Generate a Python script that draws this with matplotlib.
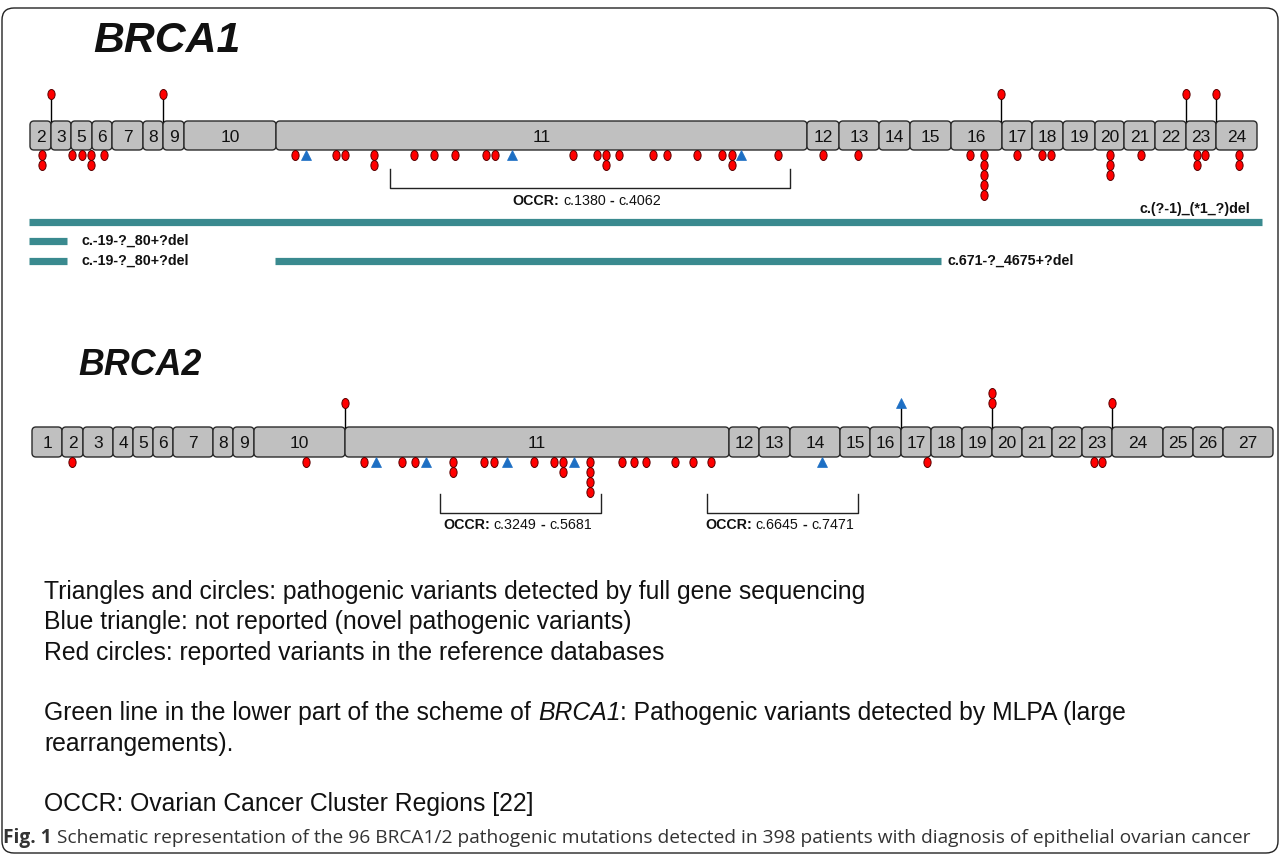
import matplotlib
matplotlib.use("Agg")
import matplotlib.pyplot as plt
from matplotlib.patches import FancyBboxPatch
from matplotlib.path import Path
from matplotlib.transforms import Affine2D
from matplotlib.markers import MarkerStyle

# ---------------- data (schematic positions along the gene) ----------------
brca1_exon_labels = ['2', '3', '5', '6', '7', '8', '9', '10', '11', '12', '13', '14',
                     '15', '16', '17', '18', '19', '20', '21', '22', '23', '24']
brca1_exon_bounds = [30, 51, 71, 92, 112, 143, 163, 184, 276, 807, 839, 879, 910,
                     951, 1002, 1032, 1063, 1095, 1124, 1155, 1186, 1216, 1257]
brca1_circles_below_pos = [42, 72, 82, 91, 104, 295, 336, 345, 374, 414, 434, 455,
                           486, 495, 573, 597, 606, 619, 653, 667, 697, 722, 732, 778,
                           823, 858, 970, 984, 1017, 1042, 1051, 1110, 1141, 1197,
                           1205, 1239]
brca1_circles_below_count = [2, 1, 1, 2, 1, 1, 1, 1, 2, 1, 1, 1,
                             1, 1, 1, 1, 2, 1, 1, 1, 1, 1, 2, 1,
                             1, 1, 1, 5, 1, 1, 1, 3, 1, 2,
                             1, 2]
brca1_triangles_below_pos = [306, 512, 741]
brca1_circles_above_pos = [51, 163, 1001, 1186, 1216]
brca1_circles_above_count = [1, 1, 1, 1, 1]
brca1_occr_start = [390]
brca1_occr_end = [790]
brca1_occr_from = ['c.1380']
brca1_occr_to = ['c.4062']

brca2_exon_labels = [str(i) for i in range(1, 28)]
brca2_exon_bounds = [32, 62, 83, 113, 133, 153, 173, 213, 233, 254, 345, 729, 759,
                     790, 840, 870, 901, 931, 962, 992, 1022, 1052, 1082, 1112, 1163,
                     1193, 1223, 1273]
brca2_circles_below_pos = [72, 306, 364, 402, 415, 453, 484, 494, 534, 554, 563, 590,
                           622, 634, 646, 675, 693, 711, 927, 1094, 1102]
brca2_circles_below_count = [1, 1, 1, 1, 1, 2, 1, 1, 1, 1, 2, 4,
                             1, 1, 1, 1, 1, 1, 1, 1, 1]
brca2_triangles_below_pos = [376, 426, 507, 574, 822]
brca2_circles_above_pos = [345, 992, 1112]
brca2_circles_above_count = [1, 2, 1]
brca2_triangles_above_pos = [901]
brca2_occr_start = [440, 707]
brca2_occr_end = [601, 858]
brca2_occr_from = ['c.3249', 'c.6645']
brca2_occr_to = ['c.5681', 'c.7471']

mlpa_start = [29, 29, 29, 275]
mlpa_end = [1262, 67, 67, 941]
mlpa_row = [0, 1, 2, 2]
mlpa_labels = ['c.(?-1)_(*1_?)del', 'c.-19-?_80+?del', 'c.-19-?_80+?del',
               'c.671-?_4675+?del']

legend_lines = [
    [("Triangles and circles: pathogenic variants detected by full gene sequencing", {})],
    [("Blue triangle: not reported (novel pathogenic variants)", {})],
    [("Red circles: reported variants in the reference databases", {})],
    None,
    [("Green line in the lower part of the scheme of ", {}), ("BRCA1", {'fontstyle': 'italic'}),
     (": Pathogenic variants detected by MLPA (large", {})],
    [("rearrangements).", {})],
    None,
    [("OCCR: Ovarian Cancer Cluster Regions [22]", {})],
]
caption_bold = "Fig. 1"
caption_text = (" Schematic representation of the 96 BRCA1/2 pathogenic mutations detected "
                "in 398 patients with diagnosis of epithelial ovarian cancer")

# ---------------- styling / layout ----------------
W, H = 1281, 858
fig = plt.figure(figsize=(W / 100, H / 100), dpi=100)
ax = fig.add_axes([0, 0, 1, 1])
ax.set_xlim(0, W)
ax.set_ylim(H, 0)
ax.axis('off')
renderer = fig.canvas.get_renderer()

FONT = 'Liberation Sans'
BOX_FILL = '#c0c0c0'
BOX_EDGE = '#2b2b2b'
RED = '#ff0000'
RED_EDGE = '#5a0000'
BLUE = '#1d6fc4'
TEAL = '#3a8a8f'
STEP = 10

ellipse = MarkerStyle(Path.unit_circle().transformed(Affine2D().scale(0.72, 1.0)))


def text_width(s, **kw):
    t = ax.text(0, 0, s, **kw)
    w = t.get_window_extent(renderer).width
    t.remove()
    return w


def rich(x, y, segs, ha='left', **kw):
    items = []
    cur = 0.0
    for s, over in segs:
        props = dict(kw)
        props.update(over)
        lead = len(s) - len(s.lstrip(' '))
        trail = len(s) - len(s.rstrip(' '))
        core = s.strip(' ')
        sp = text_width('a a', **props) - text_width('aa', **props)
        cur += lead * sp
        t = ax.text(x + cur, y, core, ha='left', va='baseline', **props)
        items.append((t, cur))
        cur += t.get_window_extent(renderer).width + trail * sp
    shift = {'left': 0, 'center': -cur / 2, 'right': -cur}[ha]
    for t, off in items:
        t.set_x(x + off + shift)
    return cur


def fit(segs, target, base=10, **kw):
    before = list(ax.texts)
    w = rich(0, -100, segs, fontsize=base, **kw)
    for t in list(ax.texts):
        if t not in before:
            t.remove()
    return base * target / w


def draw_gene(labels, bounds, top, h, title, title_x, title_base, title_size,
              below_pos, below_cnt, tri_below, above_pos, above_cnt, tri_above,
              above_off, occr_s, occr_e, occr_f, occr_t, occr_y0, occr_y1, occr_base,
              occr_size):
    for i, lab in enumerate(labels):
        x0, x1 = bounds[i], bounds[i + 1]
        ax.add_patch(FancyBboxPatch((x0, top), x1 - x0, h,
                                    boxstyle='round,pad=0,rounding_size=4',
                                    fc=BOX_FILL, ec=BOX_EDGE, lw=1.0, zorder=2))
        ax.text((x0 + x1) / 2, top + h / 2 + 6.5, lab, ha='center', va='baseline',
                fontsize=12.5, family=FONT, color='#111111', zorder=3)
    bottom = top + h
    y0 = bottom + 5
    for p, n in zip(below_pos, below_cnt):
        ys = [y0 + k * STEP for k in range(n)]
        ax.plot([p] * n, ys, ls='none', marker=ellipse, ms=7.2, mfc=RED, mec=RED_EDGE,
                mew=0.7, zorder=4)
    ax.plot(tri_below, [y0] * len(tri_below), ls='none', marker='^', ms=7, mfc=BLUE,
            mec=BLUE, mew=0.5, zorder=4)
    ya = top - above_off
    for p, n in zip(above_pos, above_cnt):
        ys = [ya - k * STEP for k in range(n)]
        ax.plot([p, p], [top, ya], color='black', lw=1.0, zorder=3)
        ax.plot([p] * n, ys, ls='none', marker=ellipse, ms=7.2, mfc=RED, mec=RED_EDGE,
                mew=0.7, zorder=4)
    for p in tri_above:
        ax.plot([p, p], [top, ya], color='black', lw=1.0, zorder=3)
        ax.plot([p], [ya], ls='none', marker='^', ms=7, mfc=BLUE, mec=BLUE, mew=0.5,
                zorder=4)
    for s, e, f, t in zip(occr_s, occr_e, occr_f, occr_t):
        ax.plot([s, s, e, e], [occr_y0, occr_y1, occr_y1, occr_y0], color='#222222',
                lw=1.0)
        rich((s + e) / 2 - 3, occr_base,
             [("OCCR:", {'fontweight': 'bold'}), (" " + f + " ", {}),
              ("-", {'fontweight': 'bold'}), (" " + t, {})],
             ha='center', fontsize=occr_size, family=FONT, color='#111111')
    rich(title_x, title_base, [(title, {})], ha='left', fontsize=title_size,
         family=FONT, fontweight='bold', fontstyle='italic', color='#111111')


title1_size = fit([("BRCA1", {})], 147, base=20, family=FONT, fontweight='bold',
                  fontstyle='italic')
title2_size = fit([("BRCA2", {})], 123, base=20, family=FONT, fontweight='bold',
                  fontstyle='italic')
occr_size = fit([("OCCR:", {'fontweight': 'bold'}), (" c.1380 ", {}),
                 ("-", {'fontweight': 'bold'}), (" c.4062", {})], 149, base=10,
                family=FONT)

draw_gene(brca1_exon_labels, brca1_exon_bounds, 121, 29, 'BRCA1', 93, 52, title1_size,
          brca1_circles_below_pos, brca1_circles_below_count, brca1_triangles_below_pos,
          brca1_circles_above_pos, brca1_circles_above_count, [], 27,
          brca1_occr_start, brca1_occr_end, brca1_occr_from, brca1_occr_to,
          169, 188, 205, occr_size)

draw_gene(brca2_exon_labels, brca2_exon_bounds, 427, 30, 'BRCA2', 78, 375, title2_size,
          brca2_circles_below_pos, brca2_circles_below_count, brca2_triangles_below_pos,
          brca2_circles_above_pos, brca2_circles_above_count, brca2_triangles_above_pos,
          24, brca2_occr_start, brca2_occr_end, brca2_occr_from, brca2_occr_to,
          494, 513, 529, occr_size)

# MLPA large rearrangements
row_y = [222, 241, 260.5]
label_gap = [0, 14, 14, 6]
mlpa_size = fit([("c.-19-?_80+?del", {})], 107, base=9, family=FONT, fontweight='bold')
for s, e, r, lab, g in zip(mlpa_start, mlpa_end, mlpa_row, mlpa_labels, label_gap):
    y = row_y[r]
    ax.plot([s, e], [y, y], color=TEAL, lw=5.2, solid_capstyle='butt', zorder=2)
    if r == 0:
        rich(1250, 213, [(lab, {})], ha='right', fontsize=mlpa_size, family=FONT,
             fontweight='bold', color='#111111')
    else:
        rich(e + g, y + 4, [(lab, {})], ha='left', fontsize=mlpa_size, family=FONT,
             fontweight='bold', color='#111111')

# explanatory text
leg_size = fit(legend_lines[0], 826, base=16, family=FONT)
base_y = 599
for i, segs in enumerate(legend_lines):
    if segs is None:
        continue
    yy = base_y + i * 30.3
    rich(44, yy, segs, ha='left', fontsize=leg_size, family=FONT, color='#111111')

# caption
cap_segs = [(caption_bold, {'fontweight': 'bold'}), (caption_text, {})]
cap_size = fit(cap_segs, 1242, base=12, family='Open Sans')
rich(3, 843, cap_segs, ha='left', fontsize=cap_size, family='Open Sans', color='#333333')

# frame
ax.add_patch(FancyBboxPatch((2, 8), 1276, 845, boxstyle='round,pad=0,rounding_size=12',
                            fc='none', ec='#222222', lw=1.0, zorder=1))

fig.savefig('out.png', dpi=100)
